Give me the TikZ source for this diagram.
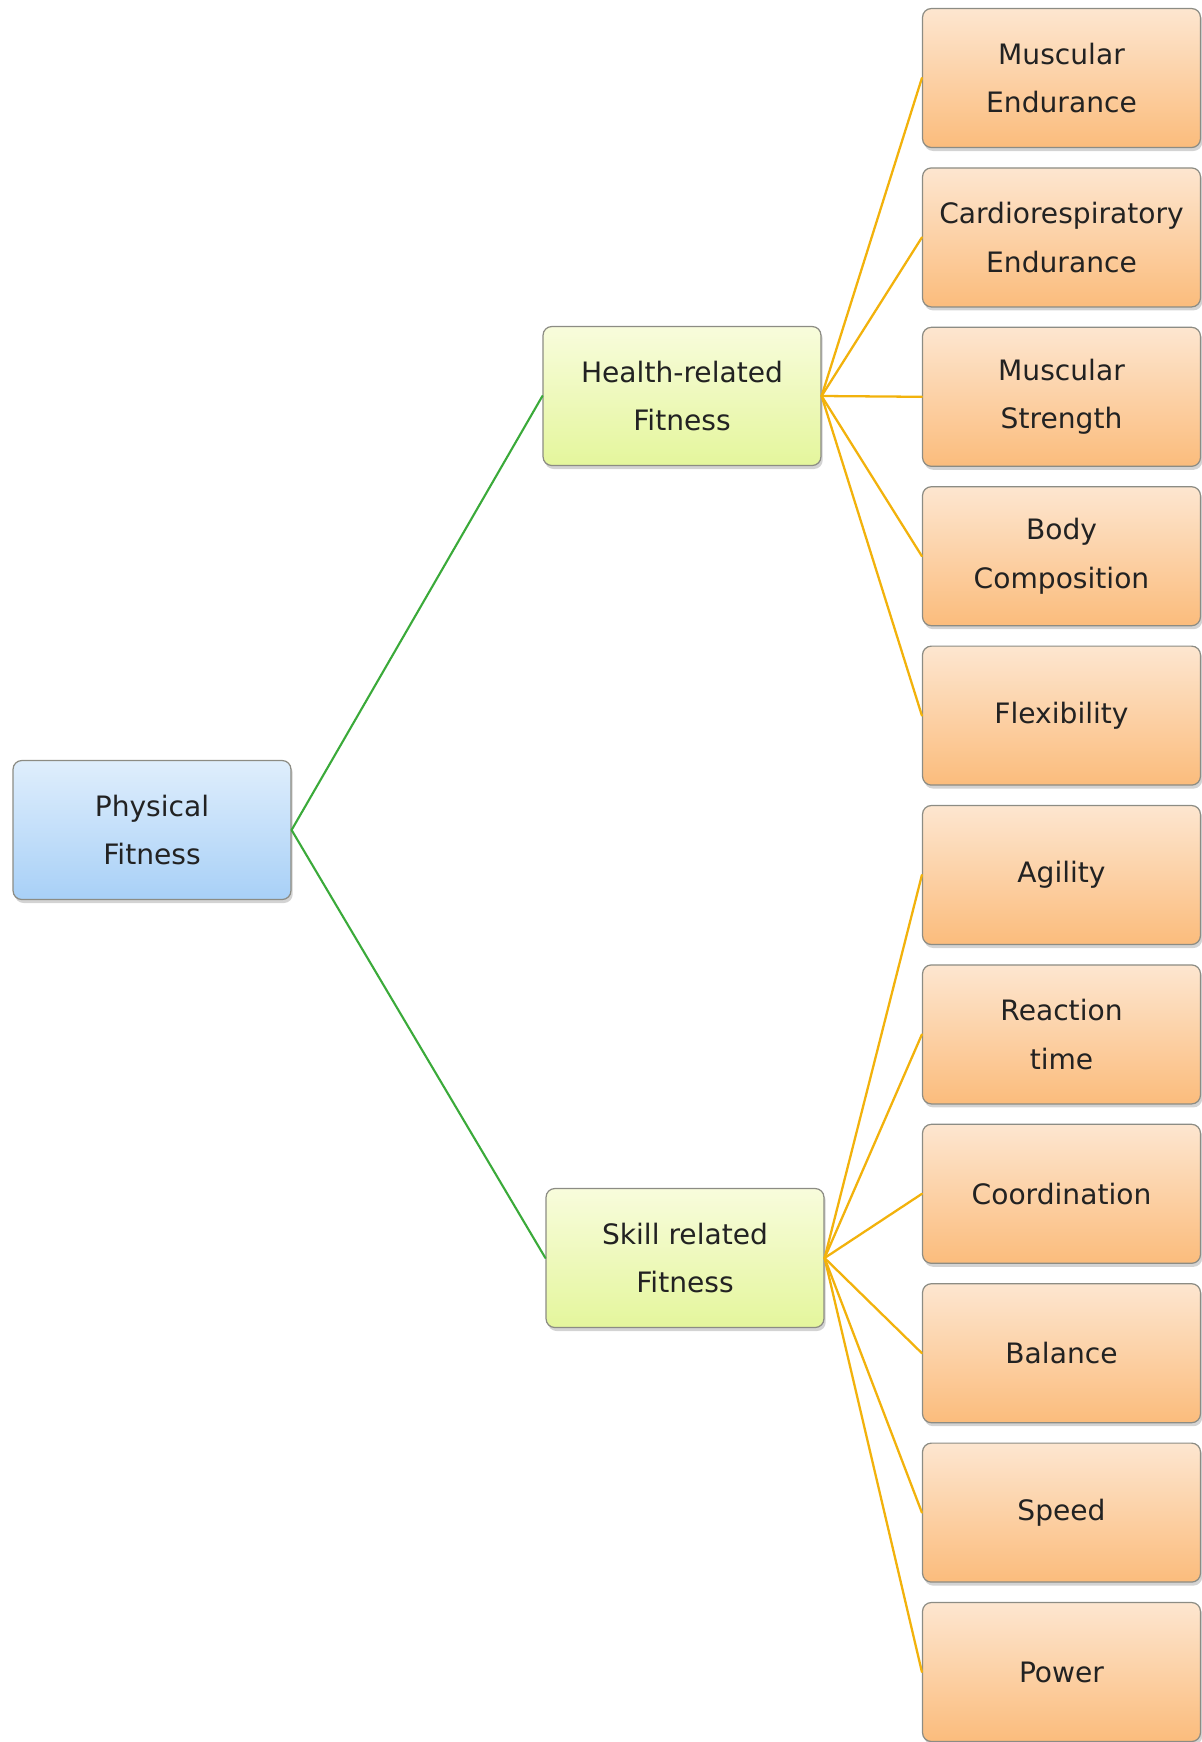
\documentclass[tikz,border=0pt]{standalone}
\usepackage{fontspec}
\setmainfont{DejaVu Sans}
\usepackage{tikz}
\usetikzlibrary{shadows}
\usetikzlibrary{positioning}

\definecolor{boxline}{HTML}{8C8C84}
\definecolor{rootTop}{HTML}{DFEEFC}
\definecolor{rootBot}{HTML}{A8D0F7}
\definecolor{midTop}{HTML}{F8FCDC}
\definecolor{midBot}{HTML}{E4F69C}
\definecolor{leafTop}{HTML}{FDE6D0}
\definecolor{leafBot}{HTML}{FBBC7C}
\definecolor{greenline}{HTML}{3BAA3A}
\definecolor{orangeline}{HTML}{F2B20C}
\definecolor{boxtext}{HTML}{222222}

\begin{document}
\begin{tikzpicture}[x=0.02cm,y=-0.02cm,line cap=round,line join=round]
  \tikzset{
  % common look of every box
  fitbox/.style={draw=boxline, line width=0.7pt, rounded corners=5pt,
    minimum width=5.56cm, minimum height=2.78cm, align=center,
    text=boxtext, font=\fontsize{16}{27.5}\selectfont,
    drop shadow={shadow xshift=1pt, shadow yshift=-2pt, opacity=0.35}},
  rootbox/.style={fitbox, top color=rootTop, bottom color=rootBot},
  midbox/.style={fitbox, top color=midTop, bottom color=midBot},
  leafbox/.style={fitbox, top color=leafTop, bottom color=leafBot},
  greenlink/.style={draw=greenline, line width=1.2pt},
  orangelink/.style={draw=orangeline, line width=1.3pt},
}

\useasboundingbox (0,0) rectangle (1201,1742);

\node[rootbox] (PF) at (152,830) {Physical\\Fitness};
\node[midbox] (HR) at (682,396) {Health-related\\Fitness};
\node[midbox] (SR) at (685,1258) {Skill related\\Fitness};

\node[leafbox] (ME) at (1061.5,78) {Muscular\\Endurance};
\node[leafbox] (CE) at (1061.5,237.4) {Cardiorespiratory\\Endurance};
\node[leafbox] (MS) at (1061.5,396.8) {Muscular\\Strength};
\node[leafbox] (BC) at (1061.5,556.2) {Body\\Composition};
\node[leafbox] (FL) at (1061.5,715.6) {Flexibility};
\node[leafbox] (AG) at (1061.5,875) {Agility};
\node[leafbox] (RT) at (1061.5,1034.4) {Reaction\\time};
\node[leafbox] (CO) at (1061.5,1193.8) {Coordination};
\node[leafbox] (BA) at (1061.5,1353.2) {Balance};
\node[leafbox] (SP) at (1061.5,1512.6) {Speed};
\node[leafbox] (PO) at (1061.5,1672) {Power};

\draw[greenlink] (PF.east) -- (HR.west);
\draw[greenlink] (PF.east) -- (SR.west);

\foreach \leaf in {ME,CE,MS,BC,FL}
  \draw[orangelink] (HR.east) -- (\leaf.west);
\foreach \leaf in {AG,RT,CO,BA,SP,PO}
  \draw[orangelink] (SR.east) -- (\leaf.west);
\end{tikzpicture}
\end{document}
